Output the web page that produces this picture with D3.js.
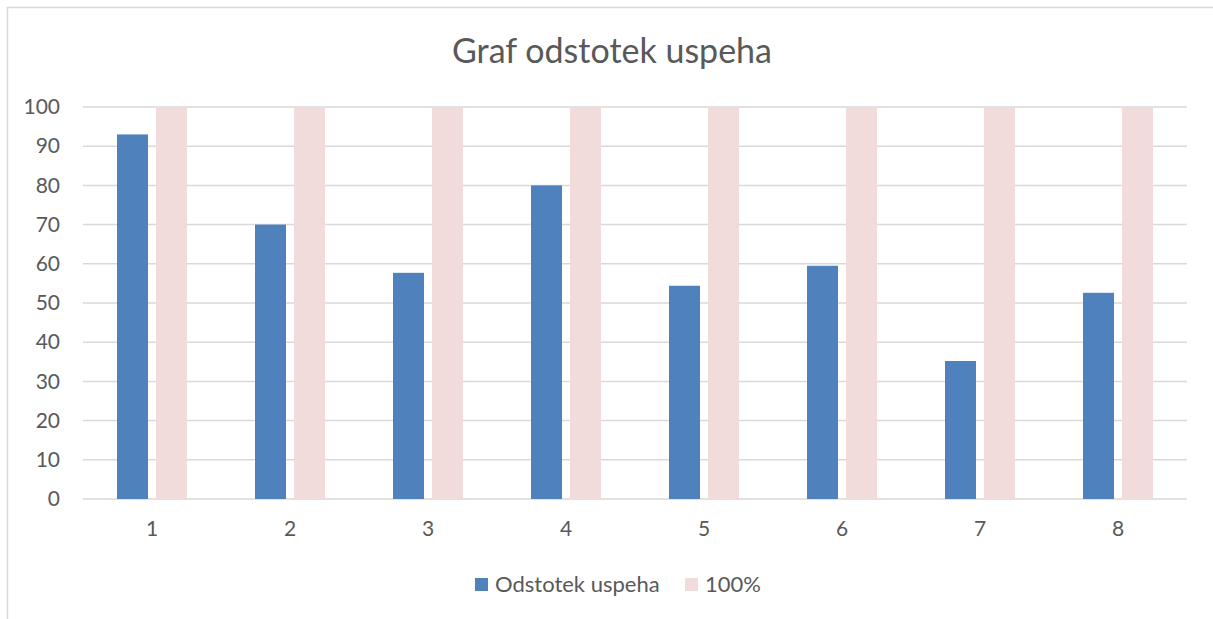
<!DOCTYPE html>
<html>
<head>
<meta charset="utf-8">
<script src="https://cdn.jsdelivr.net/npm/d3@7"></script>
<style>
  body { margin: 0; background: #fff; }
  text { font-family: Lato, "Open Sans", sans-serif; fill: #595959; }
</style>
</head>
<body>
<script>
var categories = ['1', '2', '3', '4', '5', '6', '7', '8'];
var uspeh = [93, 70, 57.7, 80, 54.4, 59.5, 35.2, 52.6];
var polno = [100, 100, 100, 100, 100, 100, 100, 100];
var seriesNames = ['Odstotek uspeha', '100%'];
var yTicks = [0, 10, 20, 30, 40, 50, 60, 70, 80, 90, 100];

var svgWidth = 1213;
var svgHeight = 619;

var svg = d3.select('body')
  .append('svg')
    .attr('width', svgWidth)
    .attr('height', svgHeight);

// chart frame (runs off the right and bottom edge)
svg.append('rect')
  .attr('x', 7.5)
  .attr('y', 7.5)
  .attr('width', 1230)
  .attr('height', 640)
  .attr('fill', '#fff')
  .attr('stroke', '#d9d9d9')
  .attr('stroke-width', 1.5);

svg.append('text')
  .attr('x', 612)
  .attr('y', 63)
  .attr('text-anchor', 'middle')
  .style('font-size', '34px')
  .text('Graf odstotek uspeha');

var plotLeft = 83, plotRight = 1187, plotTop = 107, plotBottom = 499;

var xScale = d3.scaleBand()
    .domain(categories)
    .range([plotLeft, plotRight]);

var yScale = d3.scaleLinear()
    .domain([0, 100])
    .range([plotBottom, plotTop]);

// gridlines
svg.append('g')
  .selectAll('line')
  .data(yTicks)
  .enter()
  .append('line')
    .attr('x1', plotLeft)
    .attr('x2', plotRight)
    .attr('y1', function(d) { return yScale(d); })
    .attr('y2', function(d) { return yScale(d); })
    .attr('stroke', '#d9d9d9')
    .attr('stroke-width', 1.5);

var y_axis = d3.axisLeft(yScale).tickValues(yTicks).tickSize(0).tickPadding(23);
var gy = svg.append('g')
    .attr('transform', 'translate(' + plotLeft + ',0)')
    .call(y_axis);
gy.select('.domain').remove();
gy.selectAll('text').style('font-size', '21px').style('font-family', 'Lato, sans-serif').attr('fill', '#595959');

var x_axis = d3.axisBottom(xScale).tickSize(0).tickPadding(22);
var gx = svg.append('g')
    .attr('transform', 'translate(0,' + plotBottom + ')')
    .call(x_axis);
gx.select('.domain').remove();
gx.selectAll('text').style('font-size', '21px').style('font-family', 'Lato, sans-serif').attr('fill', '#595959');

var barWidth = 31;
var barGap = 8;

var groups = svg.selectAll('g.cat')
  .data(categories)
  .enter()
  .append('g')
    .attr('class', 'cat')
    .attr('transform', function(d) {
      return 'translate(' + (xScale(d) + xScale.bandwidth() / 2) + ',0)';
    });

groups.append('rect')
  .attr('x', -barWidth - barGap / 2)
  .attr('y', function(d, i) { return yScale(uspeh[i]); })
  .attr('width', barWidth)
  .attr('height', function(d, i) { return yScale(0) - yScale(uspeh[i]); })
  .attr('fill', '#4f81bd');

groups.append('rect')
  .attr('x', barGap / 2)
  .attr('y', function(d, i) { return yScale(polno[i]); })
  .attr('width', barWidth)
  .attr('height', function(d, i) { return yScale(0) - yScale(polno[i]); })
  .attr('fill', '#f2dcdb');

// legend
var legendColors = ['#4f81bd', '#f2dcdb'];
var legendX = [475, 685];
var legend = svg.selectAll('g.legend')
  .data(seriesNames)
  .enter()
  .append('g')
    .attr('class', 'legend')
    .attr('transform', function(d, i) { return 'translate(' + legendX[i] + ',578)'; });

legend.append('rect')
  .attr('width', 13)
  .attr('height', 13)
  .attr('fill', function(d, i) { return legendColors[i]; });

legend.append('text')
  .attr('x', 20)
  .attr('y', 14)
  .style('font-size', '22px')
  .text(function(d) { return d; });
</script>
</body>
</html>
